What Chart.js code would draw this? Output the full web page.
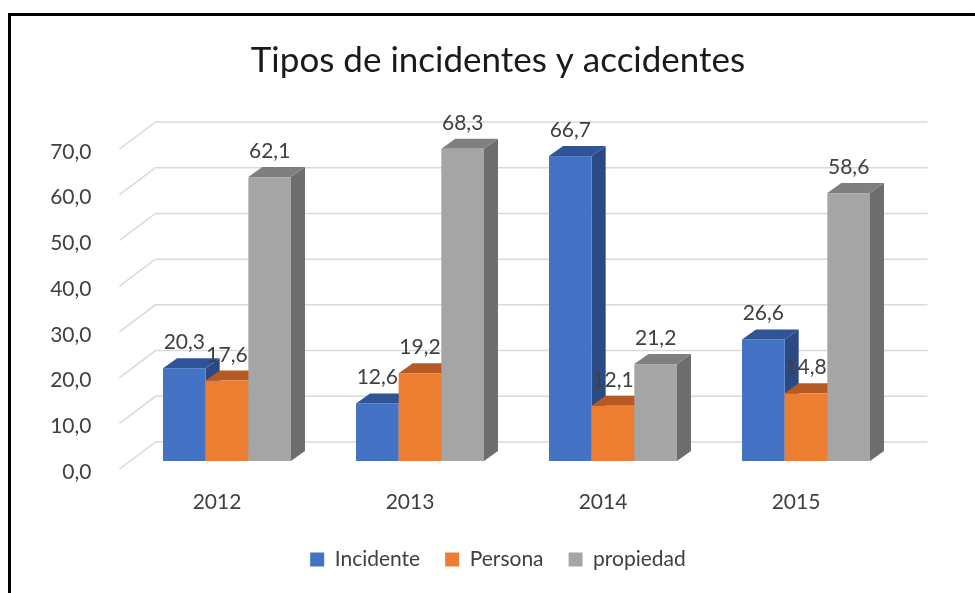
<!DOCTYPE html>
<html>
<head>
<meta charset="utf-8">
<script src="https://cdn.jsdelivr.net/npm/chart.js@4/dist/chart.umd.min.js"></script>
<style>
  html, body { margin: 0; padding: 0; background: #fff; overflow: hidden; }
  #wrap { position: relative; width: 975px; height: 593px; }
  #frame { position: absolute; left: 8px; top: 13px; right: -10px; bottom: -10px;
           border-left: 3px solid #000; border-top: 3px solid #000; pointer-events: none; }
</style>
</head>
<body>
<div id="wrap">
  <canvas id="chart" width="975" height="593"></canvas>
  <div id="frame"></div>
</div>
<script>
'use strict';
/* global Chart */

const years = ['2012', '2013', '2014', '2015'];
const incidente = [20.3, 12.6, 66.7, 26.6];
const persona = [17.6, 19.2, 12.1, 14.8];
const propiedad = [62.1, 68.3, 21.2, 58.6];
const yMin = 0;
const yMax = 70;
const yStep = 10;

const FONT = 'Lato, "Open Sans", sans-serif';
const TEXT = '#404040';

// 3D offsets (px): bar depth, back wall and front edge of the side wall
const DEPTH = { dx: 14, dy: -10 };
const WALL = { dx: 25, dy: -19 };
const FLOOR = { dx: -11, dy: 8 };

const fmt = v => Number(v).toFixed(1).replace('.', ',');

function poly(ctx, color, pts) {
  ctx.fillStyle = color;
  ctx.beginPath();
  pts.forEach((p, i) => (i ? ctx.lineTo(p[0], p[1]) : ctx.moveTo(p[0], p[1])));
  ctx.closePath();
  ctx.fill();
}

const bars3d = {
  id: 'bars3d',
  beforeDatasetsDraw(chart) {
    const { ctx, chartArea: a, scales: { y } } = chart;
    ctx.save();

    // walls: side diagonals + back gridlines
    ctx.strokeStyle = '#d9d9d9';
    ctx.lineWidth = 1.5;
    y.ticks.forEach(t => {
      const py = y.getPixelForValue(t.value);
      ctx.beginPath();
      ctx.moveTo(a.left + FLOOR.dx, py + FLOOR.dy);
      ctx.lineTo(a.left + WALL.dx, py + WALL.dy);
      ctx.lineTo(a.right + WALL.dx, py + WALL.dy);
      ctx.stroke();
    });

    // bars left to right so nearer faces cover the hidden sides
    const metas = chart.getSortedVisibleDatasetMetas();
    years.forEach((_, i) => {
      metas.forEach(meta => {
        const ds = chart.data.datasets[meta.index];
        const bar = meta.data[i];
        const l = bar.x - bar.width / 2, r = bar.x + bar.width / 2;
        const top = bar.y, base = bar.base;
        poly(ctx, ds.sideColor, [[r, base], [r, top], [r + DEPTH.dx, top + DEPTH.dy], [r + DEPTH.dx, base + DEPTH.dy]]);
        poly(ctx, ds.topColor, [[l, top], [r, top], [r + DEPTH.dx, top + DEPTH.dy], [l + DEPTH.dx, top + DEPTH.dy]]);
        ctx.fillStyle = ds.backgroundColor;
        ctx.fillRect(l, top, r - l, base - top);
      });
    });

    // data labels
    ctx.font = '21px ' + FONT;
    ctx.fillStyle = TEXT;
    ctx.textAlign = 'center';
    ctx.textBaseline = 'alphabetic';
    metas.forEach(meta => {
      const ds = chart.data.datasets[meta.index];
      meta.data.forEach((bar, i) => {
        ctx.fillText(fmt(ds.data[i]), bar.x, bar.y - 19);
      });
    });

    ctx.restore();
    return false;
  }
};

new Chart(document.getElementById('chart'), {
  type: 'bar',
  data: {
    labels: years,
    datasets: [
      { label: 'Incidente', data: incidente, backgroundColor: '#4472c4', topColor: '#2f5597', sideColor: '#2b4a84' },
      { label: 'Persona', data: persona, backgroundColor: '#ed7d31', topColor: '#b65a24', sideColor: '#a3501f' },
      { label: 'propiedad', data: propiedad, backgroundColor: '#a5a5a5', topColor: '#7f7f7f', sideColor: '#6d6d6d' },
    ],
  },
  options: {
    responsive: false,
    animation: false,
    events: [],
    layout: { padding: { left: 21, right: 0, top: 0, bottom: 13 } },
    datasets: { bar: { categoryPercentage: 0.663, barPercentage: 1 } },
    plugins: {
      title: {
        display: true,
        text: 'Tipos de incidentes y accidentes',
        color: '#1a1a1a',
        font: { family: FONT, size: 35, weight: 'normal' },
        padding: { top: 40, bottom: 59 },
      },
      legend: {
        position: 'bottom',
        labels: { font: { family: FONT, size: 21 }, color: TEXT, boxWidth: 14, boxHeight: 14, padding: 25 },
      },
      tooltip: { enabled: false },
    },
    scales: {
      x: {
        grid: { display: false },
        border: { display: false },
        ticks: { font: { family: FONT, size: 21 }, color: TEXT, padding: 21, labelOffset: -10 },
        afterFit: s => { s.height = 63; },
      },
      y: {
        min: yMin,
        max: yMax,
        grid: { display: false },
        border: { display: false },
        ticks: {
          stepSize: yStep,
          font: { family: FONT, size: 21 },
          color: TEXT,
          padding: 31,
          labelOffset: 11,
          callback: v => fmt(v),
        },
        afterFit: s => { s.width = 109.5; },
      },
      // empty right axis keeps room for the 3D depth on the right
      yRight: {
        position: 'right',
        grid: { display: false },
        border: { display: false },
        ticks: { display: false },
        afterFit: s => { s.width = 72.5; },
      },
    },
  },
  plugins: [bars3d],
});
</script>
</body>
</html>
